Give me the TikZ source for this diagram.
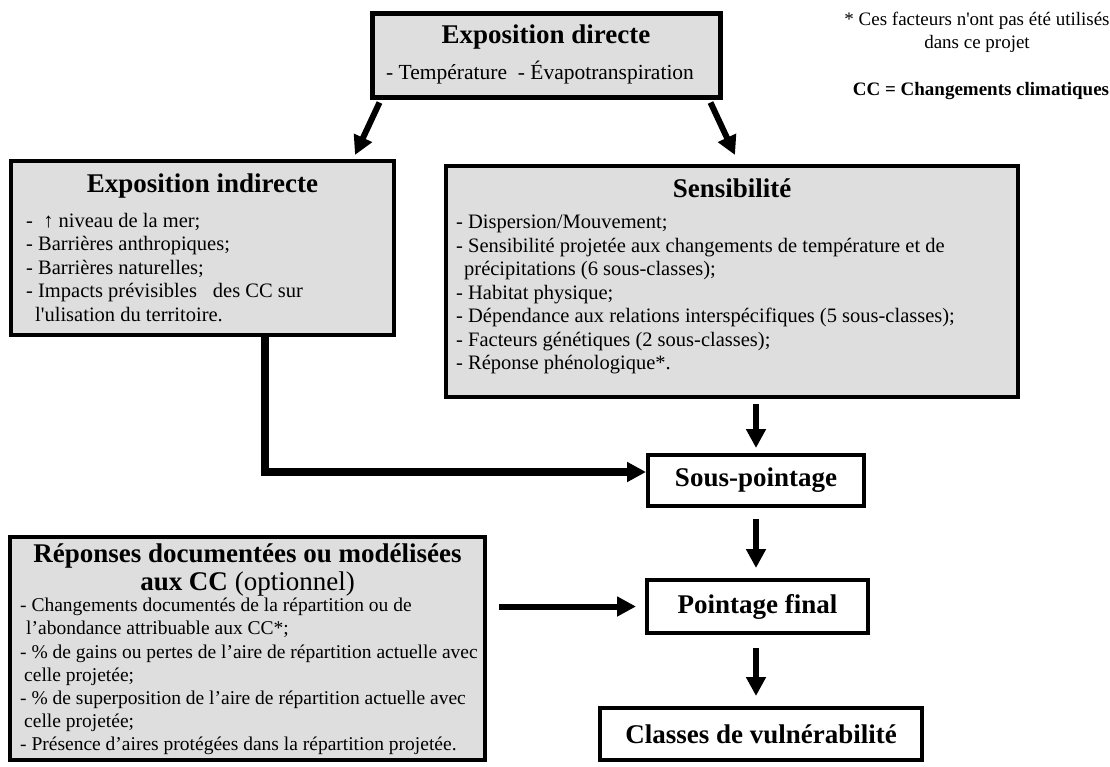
\documentclass[tikz,border=0pt]{standalone}
\usepackage{fontspec}
\setmainfont{Liberation Serif}
\usetikzlibrary{arrows.meta,calc}
\definecolor{boxgray}{HTML}{DEDEDE}
\begin{document}
\begin{tikzpicture}[x=1pt,y=-1pt,
  graybox/.style={draw, fill=boxgray, line width=4pt, inner sep=0pt},
  whitebox/.style={draw, fill=white, line width=4pt, inner sep=0pt},
  title/.style={font=\fontsize{27}{30}\selectfont\bfseries, inner sep=0pt, align=center},
  body/.style={font=\fontsize{20.5}{23.5}\selectfont, align=left, inner sep=0pt, anchor=north west},
  note/.style={font=\fontsize{19}{23}\selectfont, inner sep=0pt, align=center},
  conn/.style={line width=6pt, -{Triangle[length=19pt,width=19pt]}},
]
\useasboundingbox (0,0) rectangle (1110,766);

% boxes
\node[graybox, line width=5pt, minimum width=348pt, minimum height=84pt] (dir) at (546,55) {};
\node[graybox, minimum width=383pt, minimum height=174pt] (ind) at (202.5,248) {};
\node[graybox, minimum width=572pt, minimum height=231pt] (sens) at (732,281.5) {};
\node[graybox, minimum width=475pt, minimum height=223pt] (rep) at (247.5,648.5) {};
\node[whitebox, minimum width=216pt, minimum height=51pt] (sp) at (756,480.5) {};
\node[whitebox, minimum width=221pt, minimum height=53pt] (pf) at (757.5,606.5) {};
\node[whitebox, minimum width=322pt, minimum height=52pt] (cl) at (761,734) {};

% texts
\node[title] (dirt) at (546,37) {Exposition directe};
\node[body, anchor=west, font=\fontsize{21.5}{24}\selectfont] (dirb) at (386,73) {- Température\ \ - Évapotranspiration};

\node[title] (indt) at (202.5,186) {Exposition indirecte};
\node[body] (indb) at (26,213) {-\ \ ↑ niveau de la mer;\\
- Barrières anthropiques;\\
- Barrières naturelles;\\
- Impacts prévisibles\hspace{16pt}des CC sur\\
\hspace*{9pt}l\textquotesingle ulisation du territoire.};

\node[title] (senst) at (732,188) {Sensibilité};
\node[body] (sensb) at (456,215) {- Dispersion/Mouvement;\\
- Sensibilité projetée aux changements de température et de\\
\hspace*{8pt}précipitations (6 sous-classes);\\
- Habitat physique;\\
- Dépendance aux relations interspécifiques (5 sous-classes);\\
- Facteurs génétiques (2 sous-classes);\\
- Réponse phénologique*.};

\node[title, font=\fontsize{27}{28}\selectfont\bfseries] (rept) at (247.5,570) {Réponses documentées ou modélisées\\aux CC {\normalfont\fontsize{27}{28}\selectfont(optionnel)}};
\node[body, font=\fontsize{19.5}{23.2}\selectfont] (repb) at (20,598) {- Changements documentés de la répartition ou de\\
\hspace*{6pt}l’abondance attribuable aux CC*;\\
- \% de gains ou pertes de l’aire de répartition actuelle avec\\
\hspace*{4pt}celle projetée;\\
- \% de superposition de l’aire de répartition actuelle avec\\
\hspace*{4pt}celle projetée;\\
- Présence d’aires protégées dans la répartition projetée.};

\node[title] (spt) at (sp) {Sous-pointage};
\node[title] (pft) at (pf) {Pointage final};
\node[title] (clt) at (cl) {Classes de vulnérabilité};

\node[note] (fn) at (977,32) {* Ces facteurs n\textquotesingle ont pas été utilisés\\dans ce projet};
\node[note, font=\fontsize{19}{23}\selectfont\bfseries] (ccn) at (981,91) {CC = Changements climatiques};

% connectors
\coordinate (dl) at (355,155);
\coordinate (dr) at (735,155);
\coordinate (c1) at (265,0);
\draw[conn] ([xshift=10pt,yshift=-3pt]dir.south west) -- (dl);
\draw[conn] ([xshift=-12pt,yshift=-3pt]dir.south east) -- (dr);
\draw[conn, line width=8pt] (ind.south -| c1) |- ([yshift=8.5pt]sp.west);
\draw[conn, shorten <=5pt, shorten >=5pt] (sens.south -| sp.north) -- (sp.north);
\draw[conn, shorten <=11pt, shorten >=10pt] (sp.south) -- (pf.north -| sp.south);
\draw[conn, shorten <=13pt, shorten >=10pt] (pf.south -| sp.south) -- (cl.north -| sp.south);
\draw[conn, shorten >=9pt] ([xshift=12pt]rep.east |- pf.west) -- (pf.west);
\end{tikzpicture}
\end{document}
